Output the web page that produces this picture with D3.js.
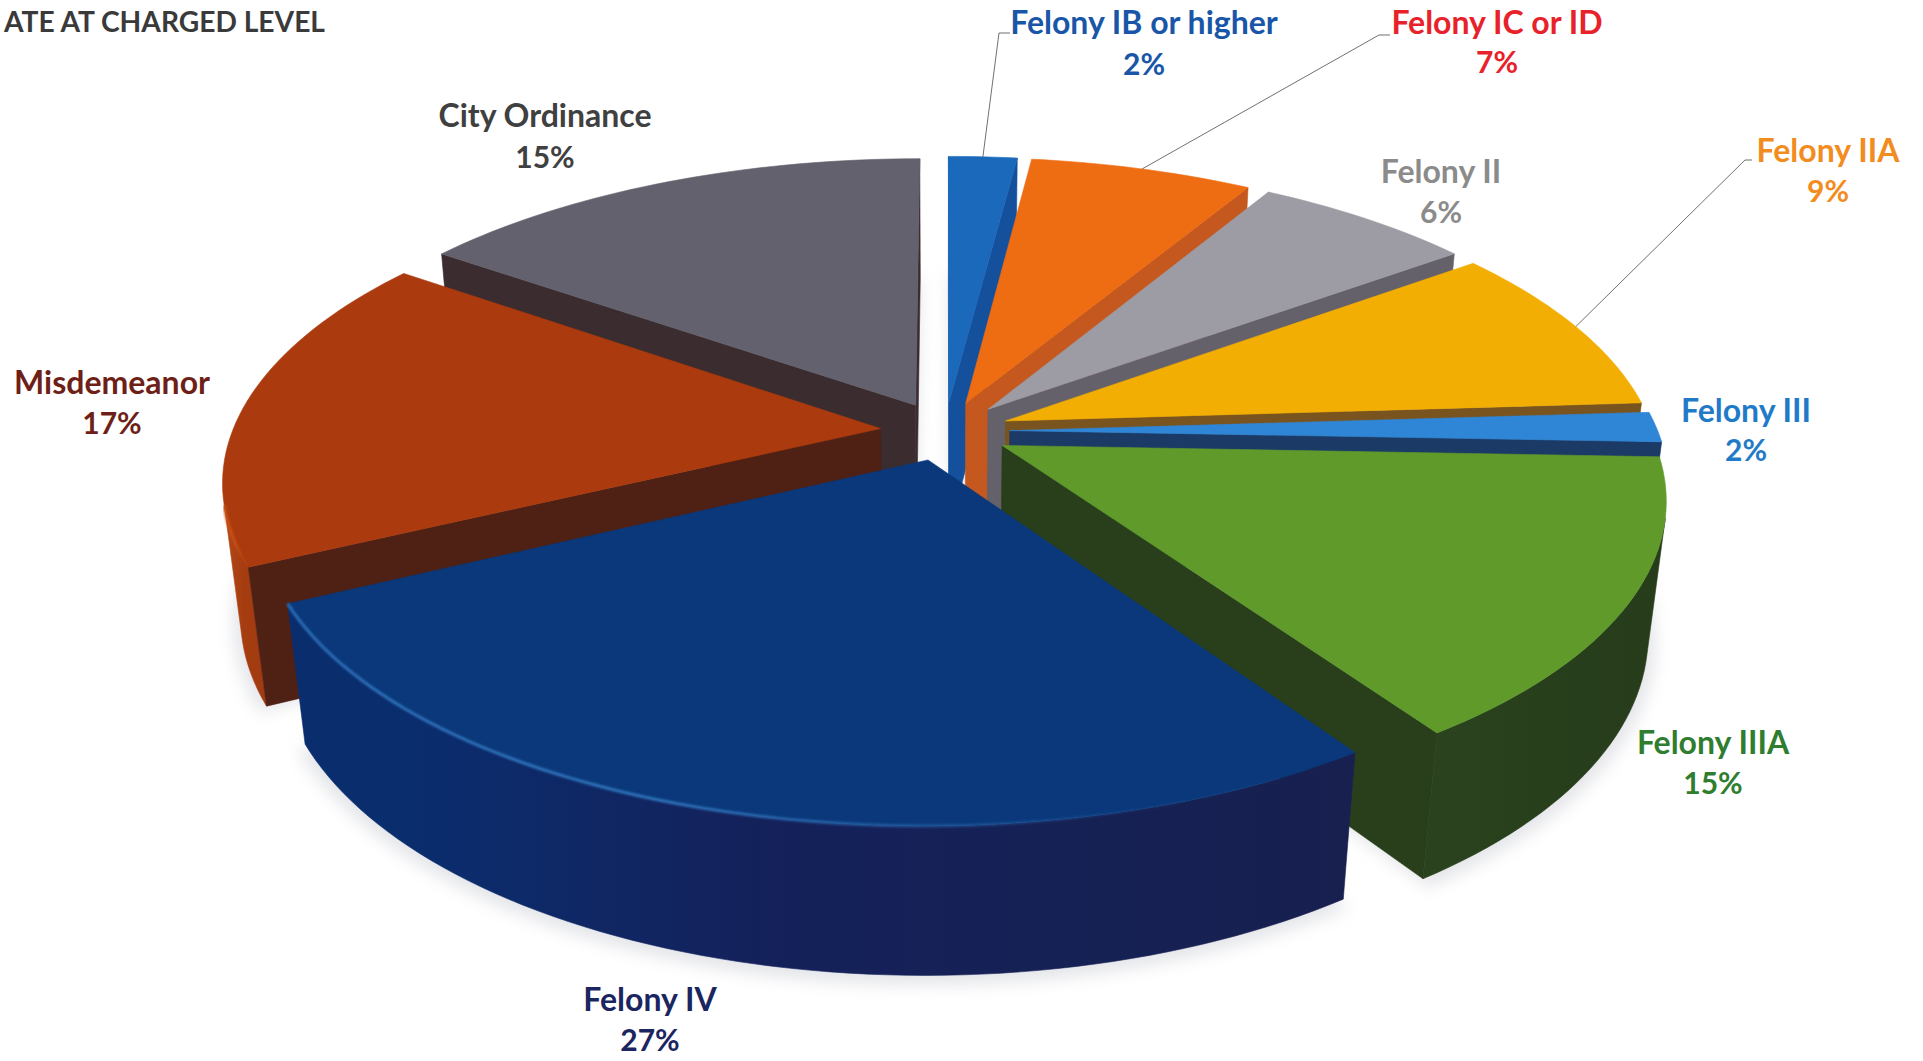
<!DOCTYPE html>
<html>
<head>
<meta charset="utf-8">
<script src="https://cdn.jsdelivr.net/npm/d3@7"></script>
<style>
html,body{margin:0;padding:0;background:#fff;overflow:hidden}
text{font-family:Lato,"Open Sans",sans-serif;font-weight:700}
</style>
</head>
<body>
<svg id="c" width="1923" height="1061"></svg>
<script>
// ---- data ----
const categories = ["Felony IB or higher","Felony IC or ID","Felony II","Felony IIA","Felony III","Felony IIIA","Felony IV","Misdemeanor","City Ordinance"];
const values = [2.0,6.5,6.4,9.1,1.6,14.9,27.3,17.0,15.2];
const chartTitle = "ATE AT CHARGED LEVEL";

// ---- styles ----
const topColors   = ["#1b69bb","#ee6c12","#9d9ba3","#f3ae04","#2f86d6","#5f9a2b","#0a387a","#ab3a0e","#63616d"];
const sideColors  = ["#14509c","#c4581e","#65616a","#79541f","#1b3a66","#293f1c","#0e2f6e","#4f2014","#3a2c2f"];
const rimStart    = ["#14509c","#c4581e","#65616a","#79541f","#1f5d9e","#2a421d","#0a2d6e","#b04515","#3a2c2f"];
const rimMid      = ["#14509c","#c4581e","#65616a","#79541f","#1b3a66","#283f1c","#14215a","#a63d10","#3a2c2f"];
const rimEnd      = ["#14509c","#c4581e","#65616a","#79541f","#1b3a66","#263c1b","#17204f","#a03a10","#3a2c2f"];
const highlightColors = {6:"#2f74bd",7:"#cc5214"};
const labelColors = ["#1a56a8","#e8222a","#8b8b8b","#f28c1e","#1f7ac8","#2f7d2f","#1b2560","#6e1f18","#404040"];

// ---- layout (label anchors: x, first baseline, second baseline) ----
const labelX  = [1144,1497,1441,1828,1746,1713,650,112,545];
const labelY1 = [34,34,183,162,422,754,1011,394,127];
const labelY2 = [75,73,223,202,461,794,1051,434,168];
const leaderElbow = {0:[[999,33],[1010,33]],1:[[1379,35],[1390,35]],3:[[1745,160],[1752,160]]};

// ---- projection parameters ----
const cx=945, cy=431, A=648, B=295, V=136, k=0.165, m=0.025, explode=0.1;
const project=(x,y,z)=>{const w=1+k*y+m*z;return [cx+A*x/w, cy+(-B*y+V*z)/w];};

const svg=d3.select("#c");
const defs=svg.append("defs");
defs.append("filter").attr("id","shadow").attr("x","-20%").attr("y","-20%").attr("width","140%").attr("height","140%")
  .append("feGaussianBlur").attr("stdDeviation",8);
defs.append("filter").attr("id","soft").attr("x","-5%").attr("y","-20%").attr("width","110%").attr("height","140%")
  .append("feGaussianBlur").attr("stdDeviation",1.1);

const arcs=d3.pie().sort(null).value(d=>d)(values);
const line=d3.line();
const closed=pts=>line(pts)+"Z";

const slices=arcs.map((a,i)=>{
  const mid=(a.startAngle+a.endAngle)/2;
  const ox=explode*Math.sin(mid), oy=explode*Math.cos(mid);
  const n=Math.max(6,Math.ceil((a.endAngle-a.startAngle)*40));
  const thetas=d3.range(n+1).map(j=>a.startAngle+(a.endAngle-a.startAngle)*j/n);
  const P=(t,z)=>project(ox+Math.sin(t),oy+Math.cos(t),z);
  const apex=z=>project(ox,oy,z);
  const topArc=thetas.map(t=>P(t,0));
  const botArc=thetas.map(t=>P(t,1));
  return {i,mid,ox,oy,thetas,P,apex,topArc,botArc,a};
});

// ground shadow
svg.append("g").attr("filter","url(#shadow)").attr("opacity",0.3)
  .selectAll("path").data(slices).join("path")
  .attr("d",s=>closed([project(s.ox,s.oy,1.03),...s.thetas.map(t=>project(s.ox+Math.sin(t)*1.012,s.oy+Math.cos(t)*1.012,1.03))]))
  .attr("fill","#a9acb8");

// far slices first
const ordered=slices.slice().sort((p,q)=>d3.descending(p.oy,q.oy));
const groups=svg.append("g").selectAll("g").data(ordered).join("g");

groups.each(function(s){
  const g=d3.select(this), i=s.i;
  // outer wall, radial walls, top; only faces turned to the viewer
  const q=[];
  for(let j=0;j<s.thetas.length-1;j++){
    const area=d3.polygonArea([s.topArc[j],s.topArc[j+1],s.botArc[j+1],s.botArc[j]]);
    if(area>0) q.push(j);
  }
  if(q.length){
    const first=q[0], last=q[q.length-1]+1;
    const tops=s.topArc.slice(first,last+1), bots=s.botArc.slice(first,last+1);
    const xs=[...tops,...bots].map(p=>p[0]);
    const id="rim"+i;
    const gr=defs.append("linearGradient").attr("id",id).attr("gradientUnits","userSpaceOnUse")
      .attr("x1",d3.min(xs)).attr("x2",d3.max(xs)).attr("y1",0).attr("y2",0);
    gr.append("stop").attr("offset",0.12).attr("stop-color",rimStart[i]);
    gr.append("stop").attr("offset",0.45).attr("stop-color",rimMid[i]);
    gr.append("stop").attr("offset",1).attr("stop-color",rimEnd[i]);
    g.append("path").attr("d",closed([...tops,...bots.slice().reverse()]))
      .attr("fill",`url(#${id})`).attr("stroke",`url(#${id})`).attr("stroke-width",.6);
  }
  const endOuter=s.thetas[s.thetas.length-1], startOuter=s.thetas[0];
  const endFace=[s.P(endOuter,0),s.apex(0),s.apex(1),s.P(endOuter,1)];
  const startFace=[s.apex(0),s.P(startOuter,0),s.P(startOuter,1),s.apex(1)];
  [endFace,startFace].forEach(f=>{
    if(d3.polygonArea(f)>0) g.append("path").attr("d",closed(f)).attr("fill",sideColors[i]).attr("stroke",sideColors[i]).attr("stroke-width",.6);
  });
  g.append("path").attr("d",closed([s.apex(0),...s.topArc])).attr("fill",topColors[i])
    .attr("stroke",topColors[i]).attr("stroke-width",.6).attr("stroke-linejoin","round");
  // soft light edge along the near rim
  if(q.length && highlightColors[i]){
    const id="hl"+i;
    const tops=s.topArc.slice(q[0],q[q.length-1]+2);
    const xs=tops.map(p=>p[0]);
    const gr=defs.append("linearGradient").attr("id",id).attr("gradientUnits","userSpaceOnUse")
      .attr("x1",d3.min(xs)).attr("x2",d3.max(xs)).attr("y1",0).attr("y2",0);
    [[0,.9],[.35,.95],[.6,.5],[.8,.1],[1,0]].forEach(([o,a])=>gr.append("stop").attr("offset",o).attr("stop-color",highlightColors[i]).attr("stop-opacity",a));
    g.append("path").attr("d",line(tops)).attr("fill","none").attr("stroke",`url(#${id})`).attr("stroke-width",3).attr("filter","url(#soft)");
  }
});

// leader lines
const leaders=Object.keys(leaderElbow).map(Number);
svg.append("g").selectAll("path").data(leaders).join("path")
  .attr("d",i=>{const s=slices[i];return line([s.P(s.mid,0),...leaderElbow[i]]);})
  .attr("fill","none").attr("stroke","#6f7272").attr("stroke-width",1);

// labels
const pct=d3.format(".0f");
const lab=svg.append("g").selectAll("g").data(categories).join("g");
lab.append("text").attr("font-size",32).attr("x",(d,i)=>labelX[i]).attr("y",(d,i)=>labelY1[i]).attr("text-anchor","middle").attr("fill",(d,i)=>labelColors[i]).text(d=>d);
lab.append("text").attr("font-size",30).attr("x",(d,i)=>labelX[i]).attr("y",(d,i)=>labelY2[i]).attr("text-anchor","middle").attr("fill",(d,i)=>labelColors[i]).text((d,i)=>pct(values[i])+"%");

svg.append("text").attr("x",325).attr("y",32).attr("text-anchor","end").attr("font-size",28.2).attr("fill","#3a3a3a").text(chartTitle);
</script>
</body>
</html>
